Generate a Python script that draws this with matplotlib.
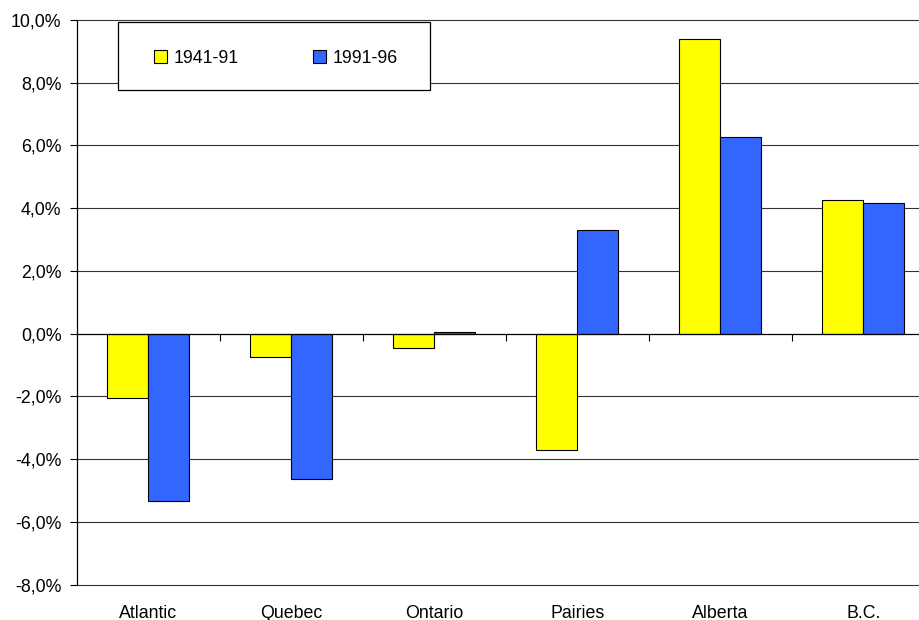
import matplotlib
matplotlib.use("Agg")
import matplotlib.pyplot as plt
from matplotlib.patches import Rectangle, Patch
import numpy as np

plt.rcParams['font.family'] = ['Liberation Sans', 'DejaVu Sans']

regions = ["Atlantic", "Quebec", "Ontario", "Pairies", "Alberta", "B.C."]
series_names = ["1941-91", "1991-96"]
growth_1941_91 = [-2.05, -0.75, -0.45, -3.72, 9.41, 4.25]
growth_1991_96 = [-5.35, -4.65, 0.05, 3.29, 6.26, 4.18]
y_ticks = [-8, -6, -4, -2, 0, 2, 4, 6, 8, 10]
y_tick_labels = ["-8,0%", "-6,0%", "-4,0%", "-2,0%", "0,0%",
                 "2,0%", "4,0%", "6,0%", "8,0%", "10,0%"]

colors = ["#FFFF00", "#3366FF"]
fs = 12.8

W, H = 920, 620
fig = plt.figure(figsize=(W / 100, H / 100), dpi=100)

# plot area in pixel coordinates (the frame runs slightly past the right edge)
left_px, right_px, top_px, bottom_px = 76.7, 934.7, 20.0, 584.5
ax = fig.add_axes([left_px / W, (H - bottom_px) / H,
                   (right_px - left_px) / W, (bottom_px - top_px) / H])

n = len(regions)
centers = np.arange(n) + 0.5
bw = 0.287
ax.bar(centers - bw / 2, growth_1941_91, width=bw, color=colors[0],
       edgecolor="black", linewidth=0.8, zorder=3)
ax.bar(centers + bw / 2, growth_1991_96, width=bw, color=colors[1],
       edgecolor="black", linewidth=0.8, zorder=3)

ax.set_xlim(0, n)
ax.set_ylim(-8, 10)

# horizontal gridlines
for t in y_ticks:
    if t != 0:
        ax.axhline(t, color="#333333", linewidth=0.8, zorder=1, clip_on=False)

ax.set_yticks(y_ticks)
ax.set_yticklabels(y_tick_labels, fontsize=fs)
ax.tick_params(axis="y", direction="out", length=5, width=0.8, pad=6,
               colors="black")

# category axis on the zero line, with boundary ticks pointing down
for s in ["top", "right"]:
    ax.spines[s].set_visible(False)
ax.spines["bottom"].set_position(("data", 0))
ax.spines["bottom"].set_linewidth(0.9)
ax.spines["bottom"].set_zorder(4)
ax.spines["left"].set_linewidth(0.9)
ax.set_xticks(np.arange(1, n))
ax.set_xticklabels([])
ax.tick_params(axis="x", direction="out", length=5, width=0.8)

label_y = -(613 - bottom_px) / (bottom_px - top_px)
for c, name in zip(centers, regions):
    ax.text(c, label_y, name, transform=ax.get_xaxis_transform(),
            ha="center", va="center", fontsize=fs, clip_on=False)

# legend box
lx0, lx1, ly0, ly1 = 118, 430, 22, 90
fig.patches.append(Rectangle((lx0 / W, (H - ly1) / H), (lx1 - lx0) / W,
                             (ly1 - ly0) / H, transform=fig.transFigure,
                             facecolor="white", edgecolor="black",
                             linewidth=0.9, zorder=5))
handles = [Patch(facecolor=colors[i], edgecolor="black", linewidth=0.8)
           for i in range(2)]
leg = fig.legend(handles, series_names, ncol=2, frameon=False,
                 loc="center", bbox_to_anchor=((lx0 + lx1) / 2 / W + 2 / W,
                                               (H - (ly0 + ly1) / 2 - 2.5) / H),
                 fontsize=fs, handlelength=0.73, handleheight=0.73,
                 handletextpad=0.35, columnspacing=4.2)
leg.set_zorder(6)

fig.savefig("out.png", dpi=100)
